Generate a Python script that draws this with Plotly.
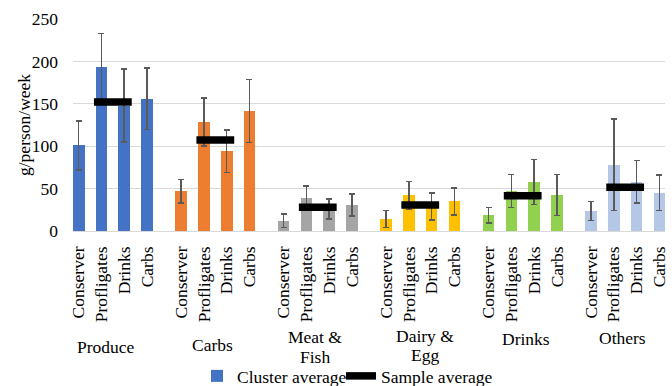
import plotly.graph_objects as go

# ---- data ----
groups = ["Produce", "Carbs", "Meat &<br>Fish", "Dairy &<br>Egg", "Drinks", "Others"]
clusters = ["Conserver", "Profligates", "Drinks", "Carbs"]

produce = [101, 193, 148, 156]
carbs = [47, 128.5, 94, 141.5]
meat_fish = [12, 39, 26, 30.5]
dairy_egg = [14, 42, 29, 35]
drinks = [18.5, 47, 57.6, 42.5]
others = [23.5, 78, 58, 45]

produce_err = [29, 40, 43, 36.5]
carbs_err = [14, 28.5, 25, 37]
meat_fish_err = [8, 14, 12, 13]
dairy_egg_err = [10, 16.5, 16, 16]
drinks_err = [9, 19.5, 26.5, 24]
others_err = [11, 54, 25, 21]

sample_avg = [152, 107.3, 28, 30.6, 41.6, 51.7]

# ---- style ----
group_colors = ["#4472C4", "#ED7D31", "#A5A5A5", "#FFC000", "#92D050", "#B4C7E7"]
FONT = "Times New Roman"
FS = 17.5
GROUP_STEP = 4.5
label_y_px = [346.5, 344.5, 347, 345.5, 339, 338]   # vertical centre of each group label block
label_xshift = [-7, -3, -3, 5, 3, -3]
LINE_GAP = 19.5

W, H = 672, 386
ML, MR, MT, MB = 73, 7, 19, 155
plot_w = W - ML - MR
plot_h = H - MT - MB

values = [produce, carbs, meat_fish, dairy_egg, drinks, others]
errors = [produce_err, carbs_err, meat_fish_err, dairy_egg_err, drinks_err, others_err]

xs, ys, es, cols, ticktext = [], [], [], [], []
for g, (vals, errs) in enumerate(zip(values, errors)):
    for i, (v, e) in enumerate(zip(vals, errs)):
        xs.append(g * GROUP_STEP + i)
        ys.append(v)
        es.append(e)
        cols.append(group_colors[g])
        ticktext.append(clusters[i])

fig = go.Figure()
fig.add_trace(go.Bar(
    x=xs, y=ys, width=0.51, name="Cluster average", legend="legend",
    marker=dict(color=cols, line=dict(width=0)),
    error_y=dict(type="data", array=es, visible=True, color="#5a5a5a", thickness=1.5, width=3),
))

sx, sy = [], []
for g, v in enumerate(sample_avg):
    c = g * GROUP_STEP + 1.5
    sx += [c - 0.83, c + 0.83, None]
    sy += [v, v, None]
fig.add_trace(go.Scatter(
    x=sx, y=sy, mode="lines", name="Sample average", legend="legend2",
    line=dict(color="black", width=7.5), hoverinfo="skip",
))

for g, name in enumerate(groups):
    lines = name.split("<br>")
    n = len(lines)
    for k, line in enumerate(lines):
        ypx = label_y_px[g] + (k - (n - 1) / 2) * LINE_GAP
        fig.add_annotation(
            x=g * GROUP_STEP + 1.5, xref="x", xshift=label_xshift[g],
            y=(H - MB - ypx) / plot_h, yref="paper", borderpad=0,
            text=line, showarrow=False, xanchor="center", yanchor="middle",
            font=dict(family=FONT, size=FS, color="black"),
        )

fig.add_annotation(
    x=(24 - ML) / plot_w, xref="paper", y=0.5, yref="paper",
    text="g/person/week", textangle=-90, showarrow=False,
    xanchor="center", yanchor="middle", borderpad=0,
    font=dict(family=FONT, size=FS, color="black"),
)

leg_common = dict(
    orientation="h", xanchor="left", yanchor="middle",
    y=(H - MB - 376) / plot_h,
    font=dict(family=FONT, size=FS, color="black"),
    bgcolor="rgba(0,0,0,0)", itemwidth=30,
)

fig.update_layout(
    width=W, height=H,
    margin=dict(l=ML, r=MR, t=MT, b=MB, pad=0, autoexpand=False),
    paper_bgcolor="white", plot_bgcolor="white",
    font=dict(family=FONT, size=FS, color="black"),
    showlegend=True,
    legend=dict(x=(197 - ML) / plot_w, **leg_common),
    legend2=dict(x=(341 - ML) / plot_w, **leg_common),
    xaxis=dict(
        range=[-0.25, 25.75], tickmode="array", tickvals=xs, ticktext=ticktext,
        tickangle=-90, showgrid=False, zeroline=False, showline=False,
        ticks="", ticklabelstandoff=11, automargin=False,
        tickfont=dict(family=FONT, size=FS, color="black"),
    ),
    yaxis=dict(
        range=[0, 250], tickvals=[0, 50, 100, 150, 200, 250],
        showgrid=True, gridcolor="#D9D9D9", gridwidth=1,
        zeroline=True, zerolinecolor="#D9D9D9", zerolinewidth=1,
        showline=False, ticks="", ticklabelstandoff=14, automargin=False,
        tickfont=dict(family=FONT, size=FS, color="black"),
    ),
    bargap=0,
)

fig.write_html("out.html", config={"displayModeBar": False},
               post_script="document.body.style.margin='0';")
